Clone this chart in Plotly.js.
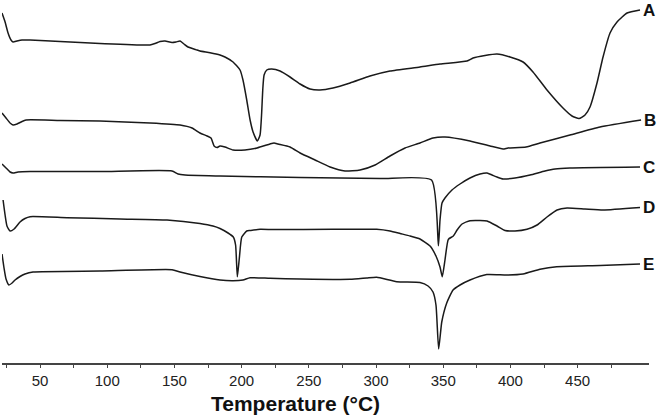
<!DOCTYPE html>
<html>
<head>
<meta charset="utf-8">
<script src="https://cdn.plot.ly/plotly-3.0.1.min.js"></script>
<style>
  html, body { margin: 0; padding: 0; background: #ffffff; }
  #dsc { width: 657px; height: 416px; }
</style>
</head>
<body>
<div id="dsc"></div>
<script>
// DSC thermograms, heat flow in arbitrary units (curves stacked, endo down)
const tempA = [21.7, 24.0, 26.2, 28.4, 29.9, 32.9, 36.6, 42.6, 64.9, 94.6, 131.8, 135.6, 139.3, 143.0, 148.2,
  151.2, 154.2, 157.1, 160.1, 166.8, 169.0, 176.5, 183.9, 187.6, 193.6, 198.8, 201.0, 203.8, 206.3, 208.5,
  211.7, 213.7, 214.9, 215.7, 216.7, 218.7, 222.4, 228.6, 236.0, 243.5, 250.9, 258.3, 268.0, 280.7, 295.5,
  310.4, 332.7, 347.6, 367.7, 372.2, 381.1, 390.0, 399.7, 409.4, 416.8, 427.2, 439.1, 445.8, 451.0, 455.5,
  459.2, 464.4, 468.9, 474.1, 479.3, 486.8, 496.4];
const flowA = [350, 341, 330, 323, 321, 322, 323, 323, 321.5, 319.5, 318, 319.5, 321.5, 322, 320.5,
  321, 322, 319, 316, 313, 312, 310.3, 308, 306, 301, 293, 283, 263, 243, 231,
  222, 228, 250, 273, 288, 293, 294, 292, 286, 279, 274, 273, 275, 280, 287,
  292, 296, 299, 302, 305, 307.5, 309, 306, 301, 291, 273, 255, 247, 244.5, 248,
  256, 280, 306, 330, 341, 350, 353];

const tempB = [21.7, 24.7, 27.7, 29.9, 32.9, 35.9, 39.6, 64.9, 94.6, 131.8, 154.2, 163.1, 169.0, 174.3, 177.2,
  179.5, 181.7, 183.9, 187.6, 193.6, 202.5, 211.5, 221.1, 224.1, 227.1, 236.0, 243.5, 254.6, 265.8, 276.9,
  288.1, 299.3, 310.4, 321.6, 332.7, 342.4, 351.3, 369.9, 384.8, 394.5, 398.2, 411.6, 422.0, 444.3, 466.7, 497.2];
const flowB = [250, 245, 240, 238, 239, 241, 243, 242.5, 242, 240, 238, 235, 230, 227, 225,
  217, 215.5, 217, 216, 213, 213, 215, 219, 220, 219, 216, 210, 203, 196, 192,
  193, 198, 207, 215, 220, 225, 226, 222, 217, 214, 215, 216, 220, 228, 236, 243];

const tempC = [21.7, 24.7, 27.7, 29.9, 33.6, 42.6, 94.6, 148.2, 152.7, 157.9, 183.9, 243.5, 303.0, 341.3, 346.4,
  347.6, 349.1, 351.3, 356.5, 362.5, 369.9, 377.4, 382.6, 386.3, 390.0, 394.5, 403.4, 414.6, 425.7, 433.2, 444.3, 496.4];
const flowC = [199, 195, 191, 190, 191, 191.5, 191.5, 192, 189, 188, 187, 185.5, 184.5, 183, 117.3,
  143, 160, 165, 173, 179, 185, 189, 190, 188, 186, 184, 185, 188, 192, 194, 195, 196];

const tempD = [22.5, 24.0, 25.4, 27.7, 30.7, 35.1, 38.8, 42.6, 70.1, 109.5, 144.5, 169.0, 178.7, 183.9, 189.9,
  193.8, 195.5, 196.8, 198.3, 200.1, 203.8, 206.3, 213.7, 223.4, 268.0, 300.5, 310.4, 317.9, 325.3, 332.7,
  340.2, 344.6, 347.6, 349.3, 351.3, 353.8, 357.5, 360.3, 364.0, 369.9, 377.4, 382.6, 390.0, 396.0, 403.4,
  412.3, 419.8, 427.2, 434.7, 442.1, 455.5, 468.9, 496.4];
const flowD = [163, 148, 137, 132, 134, 141, 144.5, 146.3, 145.3, 144, 143, 139.5, 137, 134.5, 130,
  126, 118, 86.3, 105, 126, 132, 132.5, 133.7, 133.5, 133.7, 133.7, 132, 129.5, 127, 124,
  117, 107, 96, 86.3, 103, 123.7, 127, 133, 139, 142.3, 142.5, 142, 137, 132.5, 132,
  133.7, 138, 146, 153, 155, 154, 153, 155.5];

const tempE = [21.7, 23.2, 24.7, 26.9, 29.2, 31.4, 35.1, 38.8, 44.8, 94.6, 148.2, 154.2, 169.0, 183.9, 193.6,
  201.0, 206.3, 221.1, 243.5, 280.7, 293.1, 300.5, 315.4, 332.7, 338.7, 342.4, 344.6, 346.6, 348.9, 352.6,
  357.3, 362.5, 369.9, 382.4, 397.3, 409.4, 422.0, 434.4, 466.7, 496.4];
const flowE = [109, 95, 84, 78, 80, 83, 86.5, 89, 91, 92, 93.3, 91, 86.5, 83, 82.3,
  83, 85.3, 84.7, 84, 83.7, 85, 85.7, 81.3, 80.5, 77, 71, 58, 14, 41, 60,
  73, 78, 83, 88.5, 88, 89, 93.7, 96.3, 97.5, 99];

const sampleLabels = ["A", "B", "C", "D", "E"];
const tickTemps = [25, 50, 75, 100, 125, 150, 175, 200, 225, 250, 275, 300, 325, 350, 375, 400, 425, 450, 475];
const labelledTemps = [50, 100, 150, 200, 250, 300, 350, 400, 450];

const curves = [
  [tempA, flowA],
  [tempB, flowB],
  [tempC, flowC],
  [tempD, flowD],
  [tempE, flowE]
];

const traces = curves.map(([x, y], i) => ({
  type: "scatter",
  mode: "lines",
  name: sampleLabels[i],
  x: x,
  y: y,
  line: { color: "#1a1a1a", width: 1.5, shape: "spline", smoothing: 0.5 },
  hoverinfo: "skip"
}));

const annotations = curves.map(([x, y], i) => ({
  x: x[x.length - 1],
  y: y[y.length - 1],
  xref: "x",
  yref: "y",
  text: `<b>${sampleLabels[i]}</b>`,
  showarrow: false,
  xanchor: "left",
  yanchor: "middle",
  xshift: 1,
  font: { family: "Liberation Sans, Arial, sans-serif", size: 17, color: "#111111" }
}));

// axis title, placed by pixel position under the axis line
annotations.push({
  x: (295 - 2) / 647,
  y: -(403 - 363) / 363,
  xref: "paper",
  yref: "paper",
  text: "<b>Temperature (°C)</b>",
  showarrow: false,
  xanchor: "center",
  yanchor: "middle",
  font: { family: "Liberation Sans, Arial, sans-serif", size: 21, color: "#111111" }
});

const layout = {
  width: 657,
  height: 416,
  margin: { l: 2, r: 8, t: 0, b: 53 },
  paper_bgcolor: "#ffffff",
  plot_bgcolor: "#ffffff",
  showlegend: false,
  font: { family: "Liberation Sans, Arial, sans-serif", size: 15, color: "#222222" },
  xaxis: {
    range: [21.7, 503.1],
    tickmode: "array",
    tickvals: tickTemps,
    ticktext: tickTemps.map((t) => (labelledTemps.includes(t) ? String(t) : "")),
    ticks: "outside",
    ticklen: 3,
    tickwidth: 1,
    tickcolor: "#444444",
    tickfont: { size: 15, color: "#222222" },
    showline: true,
    linecolor: "#444444",
    linewidth: 1.5,
    showgrid: false,
    zeroline: false
  },
  yaxis: {
    range: [0, 363],
    visible: false,
    showgrid: false,
    zeroline: false
  },
  annotations: annotations
};

Plotly.newPlot("dsc", traces, layout, { displayModeBar: false, staticPlot: true });
</script>
</body>
</html>
